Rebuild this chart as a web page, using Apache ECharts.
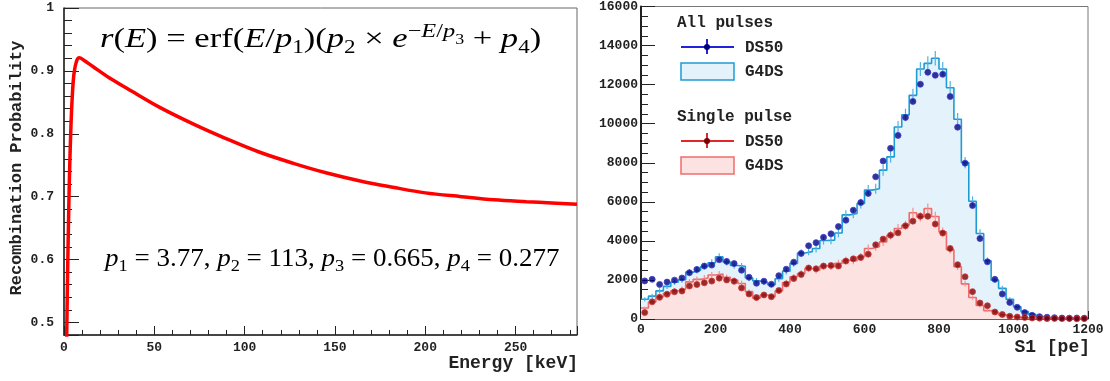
<!DOCTYPE html>
<html>
<head>
<meta charset="utf-8">
<title>Recombination probability / S1 spectrum</title>
<script src="https://cdn.jsdelivr.net/npm/echarts/dist/echarts.min.js"></script>
<style>
  html, body { margin: 0; padding: 0; background: #fff; }
  #chart { width: 1110px; height: 381px; }
</style>
</head>
<body>
<div id="chart"></div>
<script>
// left panel: recombination curve
const energyKeV = [1.2, 1.6, 2.0, 2.5, 3.0, 3.7, 4.5, 5.5, 7.0, 8.5, 11, 16, 25, 35, 53, 72, 90, 108, 127, 145, 164, 182, 200, 220, 238, 256, 270, 284];
const recombProb = [0.42, 0.5, 0.58, 0.66, 0.73, 0.80, 0.855, 0.895, 0.916, 0.921, 0.917, 0.907, 0.889, 0.872, 0.842, 0.815, 0.792, 0.771, 0.753, 0.738, 0.725, 0.715, 0.706, 0.700, 0.695, 0.692, 0.690, 0.688];

// right panel: S1 spectrum, 60 bins of 20 pe from 0 to 1200
const s1BinWidth = 20;
const ds50All = [1950, 2030, 1770, 1890, 1990, 2100, 2370, 2540, 2710, 2760, 3040, 2950, 2840, 2500, 2140, 1830, 1935, 1780, 2220, 2550,
  2910, 3360, 3750, 3910, 4180, 4360, 4730, 5060, 5570, 5960, 6430, 7280, 8090, 8740, 9400, 10320, 11140, 12020, 12630, 12480,
  12530, 11390, 9820, 7980, 5810, 4120, 2930, 2030, 1280, 850, 600, 330, 190, 120, 90, 70, 50, 40, 50, 40];
const g4dsAll = [1010, 1170, 1440, 1670, 1890, 2010, 2400, 2500, 2690, 2880, 3180, 2920, 2740, 2700, 2100, 1950, 1880, 1760, 2060, 2450,
  2850, 3380, 3450, 3610, 4020, 4040, 4400, 5330, 5400, 5910, 6600, 6670, 7620, 8300, 9830, 10450, 11450, 12800, 13090, 13350,
  12800, 11840, 10230, 8010, 6030, 4380, 2980, 1990, 1570, 1010, 630, 380, 240, 120, 80, 60, 50, 50, 40, 50];
const g4dsAllErr = [110, 120, 130, 140, 150, 150, 160, 170, 170, 180, 190, 180, 170, 170, 150, 150, 140, 140, 150, 170,
  180, 190, 190, 200, 210, 210, 220, 240, 240, 250, 260, 260, 280, 290, 310, 320, 340, 360, 360, 370,
  360, 350, 320, 290, 250, 210, 170, 140, 130, 100, 80, 60, 50, 40, 30, 30, 30, 30, 30, 30];
const ds50Single = [330, 880, 1110, 1270, 1390, 1430, 1690, 1765, 1850, 1940, 2090, 2000, 1930, 1590, 1280, 1100, 1230, 1140, 1460, 1790,
  2070, 2280, 2610, 2570, 2710, 2740, 2715, 2965, 3080, 3150, 3320, 3800, 4090, 4290, 4410, 4770, 5010, 5260, 5260, 4860,
  4400, 3610, 2780, 2160, 1400, 820, 680, 360, 230, 140, 100, 80, 50, 40, 20, 30, 20, 30, 10, 20];
const g4dsSingle = [560, 870, 1140, 1310, 1450, 1530, 1900, 2030, 2100, 2250, 2300, 2130, 1990, 1820, 1400, 1060, 1230, 1140, 1430, 1870,
  2160, 2330, 2590, 2500, 2710, 2680, 2850, 3010, 2980, 3190, 3610, 3700, 3950, 4290, 4630, 4800, 5440, 5230, 5660, 5250,
  4460, 3550, 2680, 1800, 1100, 690, 430, 330, 210, 120, 70, 60, 50, 40, 30, 30, 30, 20, 20, 20];
const g4dsSingleErr = [80, 100, 110, 120, 130, 130, 140, 150, 150, 160, 160, 150, 150, 140, 120, 110, 120, 110, 130, 140,
  150, 160, 170, 170, 170, 170, 180, 180, 180, 190, 200, 200, 210, 220, 230, 230, 250, 240, 250, 240,
  230, 200, 170, 140, 110, 90, 70, 60, 50, 40, 30, 30, 30, 20, 20, 20, 20, 20, 20, 20];

// step histogram: one point per bin low edge, plus the last high edge
function stepData(vals) {
  const out = vals.map((v, i) => [i * s1BinWidth, v]);
  out.push([vals.length * s1BinWidth, vals[vals.length - 1]]);
  return out;
}
function pointData(vals) {
  return vals.map((v, i) => [i * s1BinWidth + s1BinWidth / 2, v]);
}
function errData(vals, errs) {
  return vals.map((v, i) => [i * s1BinWidth + s1BinWidth / 2, v, errs[i]]);
}

const mono = 'Liberation Mono';
const serif = 'Liberation Serif';
const tickFont = { fontFamily: mono, fontWeight: 'bold', fontSize: 13, color: '#222' };
const axisCol = '#222';

const chart = echarts.init(document.getElementById('chart'));

// TLatex-like rich text (base size, sub, sup, sub of sup)
function mathRich(base) {
  const sub = Math.round(base * 0.68), sup = Math.round(base * 0.7), sup2 = Math.round(base * 0.5);
  const lh = Math.round(base * 1.3);
  return {
    n: { fontFamily: serif, fontSize: base, lineHeight: lh, color: '#111' },
    i: { fontFamily: serif, fontSize: base, lineHeight: lh, color: '#111', fontStyle: 'italic' },
    s: { fontFamily: serif, fontSize: sub, lineHeight: Math.round(lh * 0.55), color: '#111', verticalAlign: 'bottom' },
    sp: { fontFamily: serif, fontSize: sup, lineHeight: Math.round(lh * 0.5), color: '#111', verticalAlign: 'top' },
    si: { fontFamily: serif, fontSize: sup, lineHeight: Math.round(lh * 0.5), color: '#111', verticalAlign: 'top', fontStyle: 'italic' },
    ss: { fontFamily: serif, fontSize: sup2, lineHeight: Math.round(lh * 0.5), color: '#111', verticalAlign: 'middle' }
  };
}

// vertical error bar through the bin centre
function errBarRenderer(color) {
  return function (params, api) {
    const x = api.value(0), y = api.value(1), e = api.value(2);
    const lo = api.coord([x, y - e]);
    const hi = api.coord([x, y + e]);
    return {
      type: 'line',
      shape: { x1: lo[0], y1: lo[1], x2: hi[0], y2: hi[1] },
      style: { stroke: color, lineWidth: 1.2 }
    };
  };
}

const legendFont = 'bold 16px "Liberation Mono"';

const option = {
  backgroundColor: '#fff',
  animation: false,
  grid: [
    { left: 64, top: 8, width: 513, height: 327, show: true, borderColor: '#666', borderWidth: 1, backgroundColor: 'transparent' },
    { left: 641, top: 6, width: 447, height: 313, show: true, borderColor: '#777', borderWidth: 1, backgroundColor: 'transparent' }
  ],
  xAxis: [
    { // left, major
      gridIndex: 0, type: 'value', min: 0, max: 284, interval: 50, position: 'bottom',
      axisLine: { show: true, lineStyle: { color: axisCol, width: 1.5 } },
      axisTick: { show: true, inside: true, length: 9, lineStyle: { color: axisCol } },
      axisLabel: Object.assign({ margin: 6, formatter: v => (v % 50 === 0 ? String(v) : '') }, tickFont),
      splitLine: { show: false }
    },
    { // left, minor ticks
      gridIndex: 0, type: 'value', min: 0, max: 284, interval: 10, position: 'bottom',
      axisLine: { show: false },
      axisTick: { show: true, inside: true, length: 5, lineStyle: { color: axisCol } },
      axisLabel: { show: false }, splitLine: { show: false }
    },
    { // right
      gridIndex: 1, type: 'value', min: 0, max: 1200, interval: 200, position: 'bottom',
      axisLine: { show: true, lineStyle: { color: '#444', width: 1.5 } },
      axisTick: { show: true, inside: true, length: 8, lineStyle: { color: axisCol } },
      axisLabel: Object.assign({ margin: 4, formatter: v => String(v) }, tickFont),
      splitLine: { show: false }
    }
  ],
  yAxis: [
    { // left, major
      gridIndex: 0, type: 'value', min: 0.48, max: 1, splitNumber: 5, position: 'left',
      axisLine: { show: true, lineStyle: { color: axisCol, width: 1.5 } },
      axisTick: { show: true, inside: true, length: 15, lineStyle: { color: axisCol } },
      axisLabel: Object.assign({
        margin: 10,
        formatter: v => (v < 0.49 ? '' : (v > 0.99 ? '1' : v.toFixed(1)))
      }, tickFont),
      splitLine: { show: false }
    },
    { // left, minor ticks
      gridIndex: 0, type: 'value', min: 0.48, max: 1, interval: 0.02, position: 'left',
      axisLine: { show: false },
      axisTick: { show: true, inside: true, length: 8, lineStyle: { color: axisCol } },
      axisLabel: { show: false }, splitLine: { show: false }
    },
    { // right
      gridIndex: 1, type: 'value', min: 0, max: 16000, interval: 2000, position: 'left',
      axisLine: { show: true, lineStyle: { color: axisCol, width: 2 } },
      axisTick: { show: true, inside: true, length: 14, lineStyle: { color: axisCol } },
      minorTick: { show: true, splitNumber: 4, length: 7, lineStyle: { color: axisCol } },
      axisLabel: Object.assign({ margin: 3, formatter: v => String(v) }, tickFont),
      splitLine: { show: false }
    }
  ],
  series: [
    {
      name: 'r(E)', type: 'line', xAxisIndex: 0, yAxisIndex: 0,
      data: energyKeV.map((e, i) => [e, recombProb[i]]),
      smooth: 0.35, showSymbol: false, clip: true,
      lineStyle: { color: '#ff0000', width: 3.5 }
    },
    {
      name: 'G4DS all', type: 'line', step: 'end', xAxisIndex: 2, yAxisIndex: 2, z: 2,
      data: stepData(g4dsAll), showSymbol: false,
      lineStyle: { color: '#1f9bd3', width: 1.6 },
      areaStyle: { color: '#e4f2fc', opacity: 1 }
    },
    {
      name: 'G4DS all err', type: 'custom', xAxisIndex: 2, yAxisIndex: 2, z: 3,
      data: errData(g4dsAll, g4dsAllErr), renderItem: errBarRenderer('#4fb3e2')
    },
    {
      name: 'G4DS single', type: 'line', step: 'end', xAxisIndex: 2, yAxisIndex: 2, z: 4,
      data: stepData(g4dsSingle), showSymbol: false,
      lineStyle: { color: '#f06c6c', width: 1.6 },
      areaStyle: { color: '#fde2e2', opacity: 1 }
    },
    {
      name: 'G4DS single err', type: 'custom', xAxisIndex: 2, yAxisIndex: 2, z: 5,
      data: errData(g4dsSingle, g4dsSingleErr), renderItem: errBarRenderer('#f49090')
    },
    {
      name: 'DS50 all', type: 'scatter', xAxisIndex: 2, yAxisIndex: 2, z: 10,
      data: pointData(ds50All), symbol: 'circle', symbolSize: 6,
      itemStyle: { color: '#00007a', borderColor: '#3c3cd2', borderWidth: 1 }
    },
    {
      name: 'DS50 single', type: 'scatter', xAxisIndex: 2, yAxisIndex: 2, z: 10,
      data: pointData(ds50Single), symbol: 'circle', symbolSize: 6,
      itemStyle: { color: '#7a0000', borderColor: '#d23434', borderWidth: 1 }
    }
  ],
  graphic: [
    // formula and fit parameters
    { type: 'text', x: 100, y: 40, scaleX: 1.28, z: 10, style: {
      text: '{i|r}{n|(}{i|E}{n|) = erf(}{i|E}{n|/}{i|p}{s|1}{n|)(}{i|p}{s|2}{n| × }{i|e}{sp|−}{si|E}{sp|/}{si|p}{ss|3}{n| + }{i|p}{s|4}{n|)}',
      rich: mathRich(27), verticalAlign: 'middle', align: 'left' } },
    { type: 'text', x: 105, y: 259, scaleX: 1.08, z: 10, style: {
      text: '{i|p}{s|1}{n| = 3.77, }{i|p}{s|2}{n| = 113, }{i|p}{s|3}{n| = 0.665, }{i|p}{s|4}{n| = 0.277}',
      rich: mathRich(25), verticalAlign: 'middle', align: 'left' } },
    // axis titles
    { type: 'text', x: 17, y: 168, rotation: Math.PI / 2, style: {
      text: 'Recombination Probability', font: 'bold 17px "Liberation Mono"', fill: '#222', align: 'center', verticalAlign: 'middle' } },
    { type: 'text', x: 578, y: 363, style: {
      text: 'Energy [keV]', font: 'bold 18px "Liberation Mono"', fill: '#222', align: 'right', verticalAlign: 'middle' } },
    { type: 'text', x: 1090, y: 347, style: {
      text: 'S1 [pe]', font: 'bold 18px "Liberation Mono"', fill: '#222', align: 'right', verticalAlign: 'middle' } },
    // legend
    { type: 'text', x: 677, y: 23, style: { text: 'All pulses', font: legendFont, fill: '#222', verticalAlign: 'middle' } },
    { type: 'line', shape: { x1: 681, y1: 47, x2: 734, y2: 47 }, style: { stroke: '#2222dd', lineWidth: 2 } },
    { type: 'line', shape: { x1: 707, y1: 39, x2: 707, y2: 54 }, style: { stroke: '#2222dd', lineWidth: 2 } },
    { type: 'circle', shape: { cx: 707, cy: 47, r: 3 }, style: { fill: '#00007a' } },
    { type: 'text', x: 745, y: 48, style: { text: 'DS50', font: legendFont, fill: '#222', verticalAlign: 'middle' } },
    { type: 'rect', shape: { x: 681, y: 63, width: 53, height: 17 }, style: { fill: '#e4f2fc', stroke: '#1f9bd3', lineWidth: 1.5 } },
    { type: 'text', x: 745, y: 72, style: { text: 'G4DS', font: legendFont, fill: '#222', verticalAlign: 'middle' } },
    { type: 'text', x: 677, y: 117, style: { text: 'Single pulse', font: legendFont, fill: '#222', verticalAlign: 'middle' } },
    { type: 'line', shape: { x1: 681, y1: 141, x2: 734, y2: 141 }, style: { stroke: '#e02828', lineWidth: 2 } },
    { type: 'line', shape: { x1: 707, y1: 133, x2: 707, y2: 148 }, style: { stroke: '#e02828', lineWidth: 2 } },
    { type: 'circle', shape: { cx: 707, cy: 141, r: 3 }, style: { fill: '#7a0000' } },
    { type: 'text', x: 745, y: 142, style: { text: 'DS50', font: legendFont, fill: '#222', verticalAlign: 'middle' } },
    { type: 'rect', shape: { x: 681, y: 157, width: 53, height: 17 }, style: { fill: '#fde2e2', stroke: '#f06c6c', lineWidth: 1.5 } },
    { type: 'text', x: 745, y: 166, style: { text: 'G4DS', font: legendFont, fill: '#222', verticalAlign: 'middle' } }
  ]
};

chart.setOption(option);
</script>
</body>
</html>
